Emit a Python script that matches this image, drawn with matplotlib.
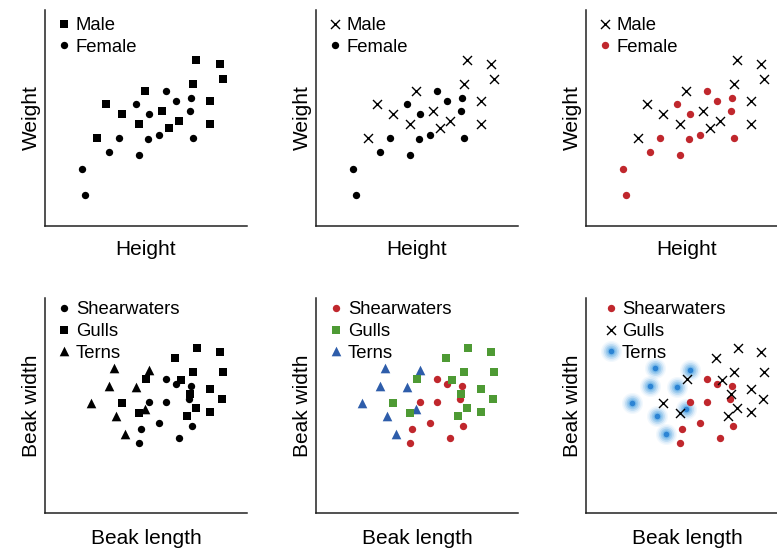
import numpy as np
import matplotlib
matplotlib.use("Agg")
from matplotlib import pyplot as plt

plt.rcParams['font.family'] = ['Liberation Sans', 'DejaVu Sans']

# Height / weight data (arbitrary units)
male_height = [7.48, 8.68, 8.81, 7.34, 4.97, 3.00, 8.18, 5.81, 3.83, 6.65, 4.65, 6.15, 8.18, 2.59]
male_weight = [7.67, 7.50, 6.79, 6.56, 6.25, 5.63, 5.79, 5.32, 5.17, 4.86, 4.71, 4.54, 4.71, 4.07]
female_height = [5.99, 4.49, 6.50, 7.21, 5.15, 7.16, 3.66, 5.08, 5.66, 7.33, 3.15, 4.65, 1.82, 1.98]
female_weight = [6.26, 5.63, 5.79, 5.94, 5.17, 5.32, 4.07, 4.01, 4.23, 4.07, 3.44, 3.29, 2.65, 1.44]

# Beak length / width data (arbitrary units)
shear_length = [5.99, 6.49, 7.21, 7.14, 5.15, 5.99, 5.64, 7.29, 4.74, 6.65, 4.65]
shear_width = [6.23, 5.99, 5.91, 5.30, 5.15, 5.16, 4.17, 4.06, 3.89, 3.50, 3.24]
gull_length = [7.54, 8.68, 6.45, 7.34, 8.83, 5.01, 6.75, 8.18, 7.19, 8.78, 3.83, 7.49, 8.18, 4.67, 7.04]
gull_width = [7.66, 7.47, 7.20, 6.54, 6.54, 6.22, 6.19, 5.75, 5.53, 5.29, 5.10, 4.87, 4.68, 4.64, 4.50]
tern_length = [3.43, 5.16, 3.17, 4.52, 2.28, 4.97, 3.51, 3.96]
tern_width = [6.76, 6.65, 5.91, 5.87, 5.13, 4.82, 4.51, 3.67]

sex_labels = ["Male", "Female"]
bird_labels = ["Shearwaters", "Gulls", "Terns"]

RED = "#C0272D"
GREEN = "#4E9A34"
BLUE = "#2E5DAA"
GLOW = "#4FA3E3"
GLOW_CORE = "#2C84D4"

# marker styles
SQUARE = dict(marker="s", s=38, color="black", linewidths=0)
CIRCLE = dict(marker="o", s=28, color="black", linewidths=0)
TRIANGLE = dict(marker="^", s=48, color="black", linewidths=0)
CROSS = dict(marker="x", s=42, color="black", linewidths=1.0)


def style(base, **kw):
    d = dict(base)
    d.update(kw)
    return d


def draw(ax, x, y, st, transform=None):
    kw = {} if transform is None else {"transform": transform}
    if st == "glow":
        for s, a in [(230, 0.07), (170, 0.12), (115, 0.2), (70, 0.3), (35, 0.45)]:
            ax.scatter(x, y, s=s, color=GLOW, alpha=a, linewidths=0, **kw)
        ax.scatter(x, y, s=16, color=GLOW_CORE, linewidths=0, **kw)
    else:
        ax.scatter(x, y, **st, **kw)


def legend(ax, labels, styles, rows, mx=0.092, tx=0.153):
    for lab, st, ry in zip(labels, styles, rows):
        draw(ax, [mx], [ry], st, transform=ax.transAxes)
        ax.text(tx, ry, lab, transform=ax.transAxes, fontsize=13.3,
                va="center_baseline", ha="left")


def setup(ax, xlabel, ylabel, h, base):
    ax.set_xlim(0, 10)
    ax.set_ylim(0, 10)
    ax.set_xticks([])
    ax.set_yticks([])
    for side in ["top", "right"]:
        ax.spines[side].set_visible(False)
    for side in ["left", "bottom"]:
        ax.spines[side].set_linewidth(1.1)
        ax.spines[side].set_color("#222222")
    ax.set_xlabel(xlabel, fontsize=15, va="baseline")
    ax.set_ylabel(ylabel, fontsize=15, va="baseline", ha="center",
                  rotation_mode="anchor")
    ax.xaxis.set_label_coords(0.5, -base / h)
    ax.yaxis.set_label_coords(-8 / 202, 0.5)
    ax.patch.set_alpha(0)


W, H = 777, 549
fig = plt.figure(figsize=(W / 100, H / 100), dpi=100)

lefts = [45, 316, 586]
top_row = (10, 226)
bottom_row = (298, 513)


def make_axes(left, row):
    t, b = row
    return fig.add_axes([left / W, 1 - b / H, 202 / W, (b - t) / H])


top_axes = [make_axes(l, top_row) for l in lefts]
bot_axes = [make_axes(l, bottom_row) for l in lefts]

# top row: male / female
male_styles = [SQUARE, CROSS, CROSS]
female_styles = [CIRCLE, CIRCLE, style(CIRCLE, color=RED)]
top_rows = [(226 - 24) / 216, (226 - 45) / 216]
for ax, ms, fs in zip(top_axes, male_styles, female_styles):
    setup(ax, "Height", "Weight", 216, 29)
    draw(ax, male_height, male_weight, ms)
    draw(ax, female_height, female_weight, fs)
    legend(ax, sex_labels, [ms, fs], top_rows)

# bottom row: bird groups
shear_styles = [CIRCLE, style(CIRCLE, color=RED), style(CIRCLE, color=RED)]
gull_styles = [SQUARE, style(SQUARE, color=GREEN), CROSS]
tern_styles = [TRIANGLE, style(TRIANGLE, color=BLUE), "glow"]
bot_rows = [(513 - 308) / 215, (513 - 330) / 215, (513 - 351) / 215]
offsets = [0.0, 0.006, 0.03]
for ax, ss, gs, ts, off in zip(bot_axes, shear_styles, gull_styles, tern_styles, offsets):
    setup(ax, "Beak length", "Beak width", 215, 31)
    draw(ax, tern_length, tern_width, ts)
    draw(ax, shear_length, shear_width, ss)
    draw(ax, gull_length, gull_width, gs)
    legend(ax, bird_labels, [ss, gs, ts], bot_rows, mx=0.092 + off, tx=0.153 + off * 0.8)

fig.savefig("out.png", dpi=100)
